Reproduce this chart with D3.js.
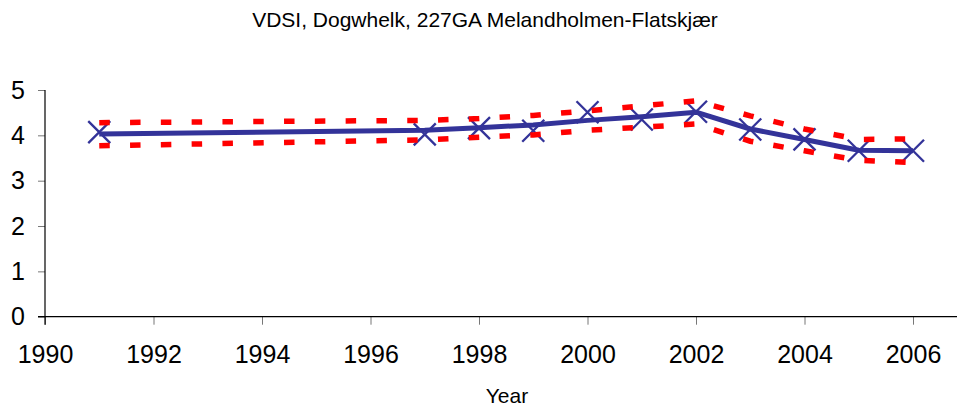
<!DOCTYPE html>
<html>
<head>
<meta charset="utf-8">
<script src="https://cdn.jsdelivr.net/npm/d3@7"></script>
<style>
  body { margin: 0; background: #fff; }
  svg { display: block; font-family: "Liberation Sans", Arial, sans-serif; }
</style>
</head>
<body>
<svg id="chart" width="957" height="410"></svg>
<script>
const title = "VDSI, Dogwhelk, 227GA Melandholmen-Flatskjær";
const xLabel = "Year";
const years = [1991, 1997, 1998, 1999, 2000, 2001, 2002, 2003, 2004, 2005, 2006];
const observed = [4.07, 4.02, 4.16, 4.10, 4.51, 4.35, 4.52, 4.13, 3.91, 3.66, 3.66];
const trend    = [4.03, 4.11, 4.17, 4.23, 4.33, 4.41, 4.51, 4.14, 3.91, 3.67, 3.66];
const upper    = [4.28, 4.33, 4.37, 4.44, 4.54, 4.65, 4.76, 4.43, 4.14, 3.91, 3.92];
const lower    = [3.77, 3.90, 3.96, 4.01, 4.11, 4.18, 4.25, 3.87, 3.66, 3.45, 3.40];
const xTicks = [1990, 1992, 1994, 1996, 1998, 2000, 2002, 2004, 2006];
const yTicks = [0, 1, 2, 3, 4, 5];

const svg = d3.select("#chart");
const W = 957;
const x = d3.scaleLinear().domain([1990, 2007]).range([45, 45 + 17 * 54.25]);
const y = d3.scaleLinear().domain([0, 5]).range([316.7, 90]);

// Title
svg.append("text").attr("x", 485).attr("y", 27).attr("text-anchor", "middle")
  .attr("font-size", 21).attr("fill", "#000").text(title);
svg.append("text").attr("x", 507).attr("y", 403).attr("text-anchor", "middle")
  .attr("font-size", 21).attr("fill", "#000").text(xLabel);

// Y axis
const yAxis = svg.append("g").attr("transform", `translate(${x(1990)},0)`)
  .call(d3.axisLeft(y).tickValues(yTicks).tickFormat(d3.format("d")).tickSize(7).tickPadding(13).tickSizeOuter(0));
yAxis.select(".domain").remove();
yAxis.selectAll(".tick line").attr("stroke", "#777");
yAxis.selectAll(".tick text").attr("font-size", 25).attr("fill", "#000").attr("font-family", "Liberation Sans, Arial, sans-serif");

// X axis
const xAxis = svg.append("g").attr("transform", `translate(0,${y(0)})`)
  .call(d3.axisBottom(x).tickValues(xTicks).tickFormat(d3.format("d")).tickSize(8).tickPadding(20.5).tickSizeOuter(0));
xAxis.select(".domain").remove();
xAxis.selectAll(".tick line").attr("stroke", "#777");
xAxis.selectAll(".tick text").attr("font-size", 25).attr("fill", "#000").attr("font-family", "Liberation Sans, Arial, sans-serif");

// axis lines
svg.append("line").attr("x1", x(1990) - 7).attr("x2", W).attr("y1", y(0)).attr("y2", y(0))
  .attr("stroke", "#000").attr("stroke-width", 1.2);
svg.append("line").attr("x1", x(1990)).attr("x2", x(1990)).attr("y1", y(5)).attr("y2", y(0) + 8)
  .attr("stroke", "#000").attr("stroke-width", 1.2);

const pts = (vals) => years.map((yr, i) => [yr, vals[i]]);
const line = d3.line().x(d => x(d[0])).y(d => y(d[1]));

// trend line
svg.append("path").attr("d", line(pts(trend))).attr("fill", "none")
  .attr("stroke", "#333399").attr("stroke-width", 5).attr("stroke-linejoin", "round");

// observed markers (X)
const s = 11;
const mk = svg.append("g");
pts(observed).forEach(d => {
  const cx = x(d[0]), cy = y(d[1]);
  mk.append("path").attr("d", `M${cx - s},${cy - s}L${cx + s},${cy + s}M${cx - s},${cy + s}L${cx + s},${cy - s}`)
    .attr("stroke", "#333399").attr("stroke-width", 2.3).attr("fill", "none");
});

// bounds
[upper, lower].forEach(vals => {
  svg.append("path").attr("d", line(pts(vals))).attr("fill", "none")
    .attr("stroke", "#ff0000").attr("stroke-width", 5.5).attr("stroke-dasharray", "10.5,20.3");
});
</script>
</body>
</html>
